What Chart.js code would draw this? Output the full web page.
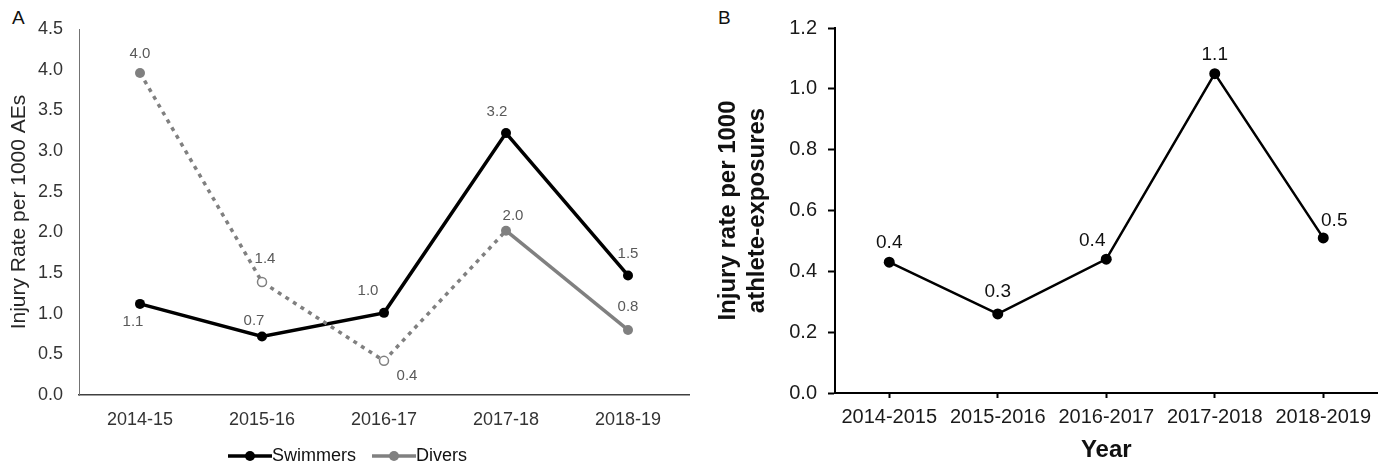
<!DOCTYPE html>
<html>
<head>
<meta charset="utf-8">
<script src="https://cdn.jsdelivr.net/npm/chart.js@4"></script>
<style>
  body { margin: 0; background: #fff; }
  .panel { position: absolute; top: 0; height: 465px; }
  .tag { position: absolute; top: 7px; font: 19px "Liberation Sans", Arial, sans-serif; color: #111; }
</style>
</head>
<body>
<div class="tag" style="left:12px">A</div>
<div class="tag" style="left:718px">B</div>
<div class="panel" style="left:0;width:700px"><canvas id="chart-a"></canvas></div>
<div class="panel" style="left:700px;width:683px"><canvas id="chart-b"></canvas></div>
<script>
const seasonsA = ['2014-15', '2015-16', '2016-17', '2017-18', '2018-19'];
const swimmers = [1.12, 0.72, 1.01, 3.22, 1.47];
const divers = [3.96, 1.39, 0.42, 2.02, 0.80];

const seasonsB = ['2014-2015', '2015-2016', '2016-2017', '2017-2018', '2018-2019'];
const injuryRate = [0.43, 0.26, 0.44, 1.05, 0.51];

const FONT = '"Liberation Sans", Arial, sans-serif';
const GREY = '#808080';

const fmt = v => (Math.round(v * 10) / 10).toFixed(1);

// value labels next to each point, offsets given per dataset
const pointLabels = {
    id: 'pointLabels',
    afterDatasetsDraw(chart, args, opts) {
        const ctx = chart.ctx;
        ctx.save();
        ctx.font = opts.size + 'px ' + FONT;
        ctx.fillStyle = opts.color;
        ctx.textAlign = 'center';
        ctx.textBaseline = 'middle';
        chart.data.datasets.forEach((ds, i) => {
            const meta = chart.getDatasetMeta(i);
            meta.data.forEach((pt, j) => {
                const off = ds.labelOffsets[j];
                ctx.fillText(fmt(ds.data[j]), pt.x + off[0], pt.y + off[1]);
            });
        });
        ctx.restore();
    }
};

// legend icon: short line with a dot in the middle, blank margin on the left
function legendIcon(color) {
    const c = document.createElement('canvas');
    c.width = 59;
    c.height = 12;
    const g = c.getContext('2d');
    g.strokeStyle = color;
    g.lineWidth = 3.5;
    g.beginPath();
    g.moveTo(15, 6);
    g.lineTo(59, 6);
    g.stroke();
    g.fillStyle = color;
    g.beginPath();
    g.arc(37, 6, 5, 0, Math.PI * 2);
    g.fill();
    return c;
}

const chartA = new Chart(document.getElementById('chart-a').getContext('2d'), {
    type: 'line',
    data: {
        labels: seasonsA,
        datasets: [{
            label: 'Swimmers',
            data: swimmers,
            borderColor: '#000',
            backgroundColor: '#000',
            borderWidth: 3.5,
            pointRadius: 5,
            pointBorderWidth: 0,
            order: 1,
            labelOffsets: [[-7, 18], [-8, -16], [-16, -22], [-9, -21], [0, -22]],
        },
        {
            label: 'Divers',
            data: divers,
            borderColor: GREY,
            backgroundColor: GREY,
            borderWidth: 3.5,
            pointRadius: [5, 4.5, 4.5, 5, 5],
            pointBackgroundColor: [GREY, '#fff', '#fff', GREY, GREY],
            pointBorderColor: GREY,
            pointBorderWidth: [0, 1.5, 1.5, 0, 0],
            order: 0,
            segment: {
                borderDash: ctx => ctx.p0DataIndex < 3 ? [4, 5] : undefined,
            },
            labelOffsets: [[0, -19], [3, -23], [23, 15], [7, -15], [0, -23]],
        }]
    },
    options: {
        responsive: true,
        maintainAspectRatio: false,
        animation: false,
        layout: { padding: { top: 29, right: 11, left: 0, bottom: -10 } },
        elements: { line: { tension: 0, borderCapStyle: 'butt' } },
        scales: {
            x: {
                offset: true,
                grid: { display: false, drawTicks: false },
                border: { display: true, color: '#404040', width: 1.5 },
                ticks: { padding: 14, color: '#333', font: { family: FONT, size: 18 } },
                afterFit: s => { s.height = 42; },
            },
            y: {
                min: 0,
                max: 4.5,
                grid: { display: false, drawTicks: false },
                border: { display: true, color: '#737373', width: 1 },
                ticks: {
                    stepSize: 0.5,
                    padding: 16,
                    color: '#333',
                    font: { family: FONT, size: 18 },
                    callback: v => v.toFixed(1),
                },
                title: {
                    display: true,
                    text: 'Injury Rate per 1000 AEs',
                    color: '#262626',
                    font: { family: FONT, size: 21 },
                    padding: { top: 7, bottom: 0 },
                },
                afterFit: s => { s.width = 79; },
            }
        },
        plugins: {
            tooltip: { enabled: false },
            pointLabels: { size: 15, color: '#595959' },
            legend: {
                position: 'bottom',
                labels: {
                    usePointStyle: true,
                    pointStyleWidth: 41,
                    padding: 10,
                    color: '#111',
                    font: { family: FONT, size: 18 },
                    generateLabels: chart => chart.data.datasets.map((ds, i) => ({
                        text: ds.label,
                        pointStyle: legendIcon(ds.borderColor),
                        fillStyle: ds.borderColor,
                        strokeStyle: ds.borderColor,
                        lineWidth: 0,
                        fontColor: '#111',
                        hidden: false,
                        datasetIndex: i,
                    })),
                }
            }
        }
    },
    plugins: [pointLabels]
});

const chartB = new Chart(document.getElementById('chart-b').getContext('2d'), {
    type: 'line',
    data: {
        labels: seasonsB,
        datasets: [{
            label: 'Injury rate',
            data: injuryRate,
            borderColor: '#000',
            backgroundColor: '#000',
            borderWidth: 2.5,
            pointRadius: 5.5,
            pointBorderWidth: 0,
            labelOffsets: [[0, -19], [0, -22], [-14, -18], [0, -19], [11, -17]],
        }]
    },
    options: {
        responsive: true,
        maintainAspectRatio: false,
        animation: false,
        layout: { padding: { top: 28, right: 0, left: 0, bottom: 0 } },
        elements: { line: { tension: 0 } },
        scales: {
            x: {
                offset: true,
                grid: { display: true, drawOnChartArea: false, offset: false, tickLength: 5, tickColor: '#000', tickWidth: 2 },
                border: { display: true, color: '#000', width: 2 },
                ticks: { padding: 7, color: '#1a1a1a', font: { family: FONT, size: 20 } },
                title: {
                    display: true,
                    text: 'Year',
                    color: '#111',
                    font: { family: FONT, size: 24, weight: 'bold' },
                    padding: { top: 0, bottom: 0 },
                },
                afterFit: s => { s.height = 72; },
            },
            y: {
                min: 0,
                max: 1.2,
                grid: { display: true, drawOnChartArea: false, tickLength: 7, tickColor: '#000', tickWidth: 2 },
                border: { display: true, color: '#000', width: 2 },
                ticks: {
                    stepSize: 0.2,
                    padding: 11,
                    color: '#1a1a1a',
                    font: { family: FONT, size: 20 },
                    callback: v => v.toFixed(1),
                },
                title: {
                    display: true,
                    text: ['Injury rate per 1000', 'athlete-exposures'],
                    color: '#111',
                    font: { family: FONT, size: 24, weight: 'bold' },
                    padding: { top: 14, bottom: 0 },
                },
                afterFit: s => { s.width = 135; },
            }
        },
        plugins: {
            tooltip: { enabled: false },
            legend: { display: false },
            pointLabels: { size: 19, color: '#111' },
        }
    },
    plugins: [pointLabels]
});
</script>
</body>
</html>
